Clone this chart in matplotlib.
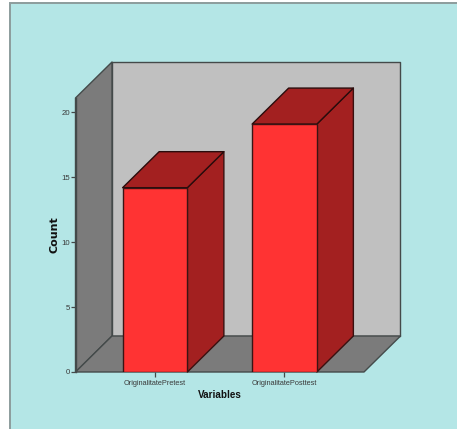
import matplotlib
matplotlib.use('Agg')
import matplotlib.pyplot as plt
from matplotlib.patches import Polygon, Rectangle

categorias = ['OriginalitatePretest', 'OriginalitatePosttest']
valores = [14.2, 19.1]
ticks_y = [0, 5, 10, 15, 20]

W, H = 457, 429
fig = plt.figure(figsize=(W / 100, H / 100), dpi=100, facecolor='white')

# marco exterior del grafico, cortado por la derecha y por abajo
fig.add_artist(Rectangle((10 / W, -10 / H), (W - 10 + 10) / W, (H - 3 + 10) / H, transform=fig.transFigure,
                         facecolor='#b4e6e6', edgecolor='#8c9c9c', linewidth=1.4, zorder=-1))

# el plano frontal es el axes; la profundidad se dibuja como desplazamiento oblicuo
ax = fig.add_axes([75.5 / W, 1 - 372 / H, 288.5 / W, 274 / H])
ax.patch.set_alpha(0)
ax.set_xlim(-0.614, 1.614)
ax.set_ylim(0, 274 / 12.98)
x0, x1 = ax.get_xlim()
y0, y1 = ax.get_ylim()
dx = 36.5 / 129.5
dy = 36 / 12.98
borde = '#444a4a'


def cara(puntos, color, lw=1.0, ec=borde, z=1):
    ax.add_patch(Polygon(puntos, closed=True, facecolor=color, edgecolor=ec,
                         linewidth=lw, clip_on=False, zorder=z, joinstyle='round'))


# paredes y suelo
cara([(x0 + dx, y0 + dy), (x1 + dx, y0 + dy), (x1 + dx, y1 + dy), (x0 + dx, y1 + dy)], '#c0c0c0')
cara([(x0, y0), (x0 + dx, y0 + dy), (x0 + dx, y1 + dy), (x0, y1)], '#7b7b7b')
cara([(x0, y0), (x1, y0), (x1 + dx, y0 + dy), (x0 + dx, y0 + dy)], '#7b7b7b')

# barras
ancho = 0.5
for i, v in enumerate(valores):
    iz, de = i - ancho / 2, i + ancho / 2
    cara([(de, 0), (de + dx, dy), (de + dx, v + dy), (de, v)], '#a32020', ec='#3a1010', z=3)
    cara([(iz, v), (de, v), (de + dx, v + dy), (iz + dx, v + dy)], '#a32020', ec='#2a0c0c', z=3)
    ax.bar(i, v, width=ancho, color='#ff3333', edgecolor='#3a1414', linewidth=1.0, zorder=4)

for s in ['top', 'right', 'bottom']:
    ax.spines[s].set_visible(False)
ax.spines['left'].set_color(borde)
ax.spines['left'].set_linewidth(1.0)
ax.spines['left'].set_zorder(5)

ax.set_xticks(range(len(categorias)))
ax.set_xticklabels(categorias, family='Liberation Sans', fontsize=5.3, color='#3a3a3a')
ax.set_yticks(ticks_y)
ax.set_yticklabels(ticks_y, family='Liberation Sans', fontsize=5.6, color='#3a3a3a')
ax.tick_params(axis='y', length=3.5, width=0.9, color=borde, pad=0.5)
ax.tick_params(axis='x', length=3.5, width=0.9, color=borde, pad=2)
ax.set_xlabel('Variables', family='Liberation Sans', fontweight='bold', fontsize=7.1, color='#111111', va='center')
ax.set_ylabel('Count', family='DejaVu Sans', fontweight='bold', fontsize=8, color='#111111', va='center')
ax.xaxis.set_label_coords(0.5, -23 / 274)
ax.yaxis.set_label_coords(-20.5 / 288.5, 0.5)

fig.savefig('out.png', dpi=100)
